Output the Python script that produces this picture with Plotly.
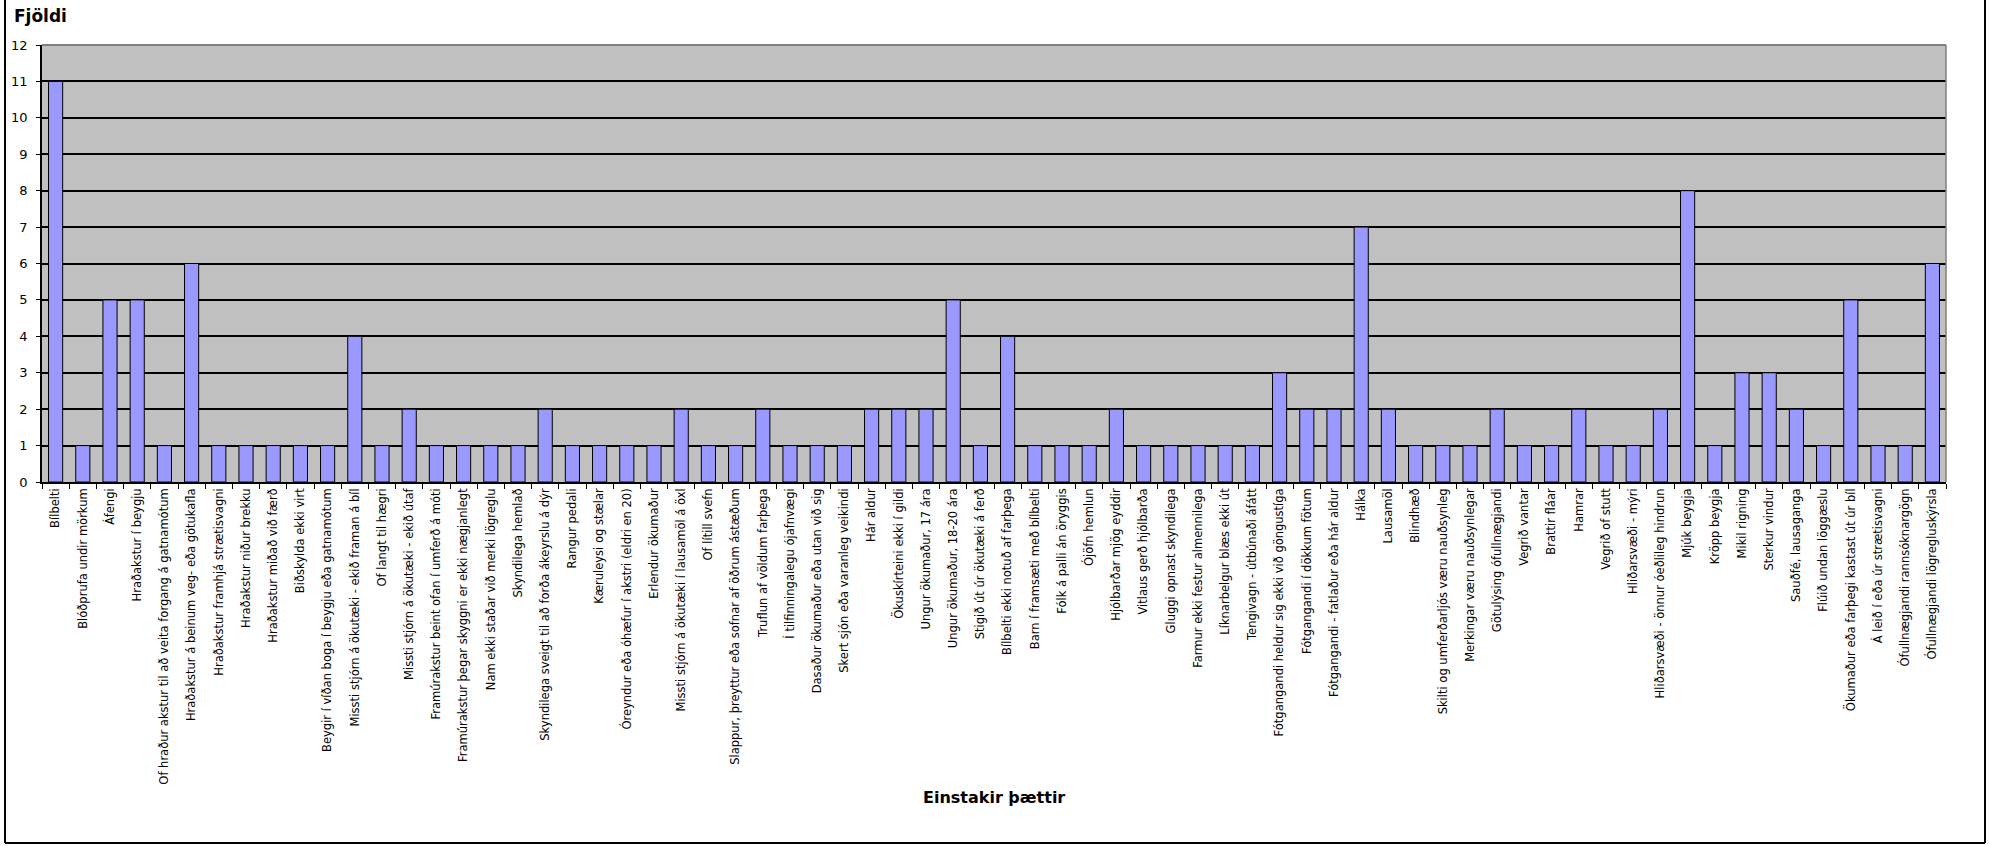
import plotly.graph_objects as go

# Contributing factors in accidents and how often each was recorded
factors = [
    "Bílbelti",
    "Blóðprufa undir mörkum",
    "Áfengi",
    "Hraðakstur í beygju",
    "Of hraður akstur til að veita forgang á gatnamótum",
    "Hraðakstur á beinum veg- eða götukafla",
    "Hraðakstur framhjá strætisvagni",
    "Hraðakstur niður brekku",
    "Hraðakstur miðað við færð",
    "Biðskylda ekki virt",
    "Beygir í víðan boga í beygju eða gatnamótum",
    "Missti stjórn á ökutæki - ekið framan á bíl",
    "Of langt til hægri",
    "Missti stjórn á ökutæki - ekið útaf",
    "Framúrakstur beint ofan í umferð á móti",
    "Framúrakstur þegar skyggni er ekki nægjanlegt",
    "Nam ekki staðar við merki lögreglu",
    "Skyndilega hemlað",
    "Skyndilega sveigt til að forða ákeyrslu á dýr",
    "Rangur pedali",
    "Kæruleysi og stælar",
    "Óreyndur eða óhæfur í akstri (eldri en 20)",
    "Erlendur ökumaður",
    "Missti stjórn á ökutæki í lausamöl á öxl",
    "Of lítill svefn",
    "Slappur, þreyttur eða sofnar af öðrum ástæðum",
    "Truflun af völdum farþega",
    "Í tilfinningalegu ójafnvægi",
    "Dasaður ökumaður eða utan við sig",
    "Skert sjón eða varanleg veikindi",
    "Hár aldur",
    "Ökuskírteini ekki í gildi",
    "Ungur ökumaður, 17 ára",
    "Ungur ökumaður, 18-20 ára",
    "Stigið út úr ökutæki á ferð",
    "Bílbelti ekki notuð af farþega",
    "Barn í framsæti með bílbelti",
    "Fólk á palli án öryggis",
    "Ójöfn hemlun",
    "Hjólbarðar mjög eyddir",
    "Vitlaus gerð hjólbarða",
    "Gluggi opnast skyndilega",
    "Farmur ekki festur almennilega",
    "Líknarbelgur blæs ekki út",
    "Tengivagn - útbúnaði áfátt",
    "Fótgangandi heldur sig ekki við göngustíga",
    "Fótgangandi í dökkum fötum",
    "Fótgangandi - fatlaður eða hár aldur",
    "Hálka",
    "Lausamöl",
    "Blindhæð",
    "Skilti og umferðarljós væru nauðsynleg",
    "Merkingar væru nauðsynlegar",
    "Götulýsing ófullnægjandi",
    "Vegrið vantar",
    "Brattir fláar",
    "Hamrar",
    "Vegrið of stutt",
    "Hliðarsvæði - mýri",
    "Hliðarsvæði - önnur óeðlileg hindrun",
    "Mjúk beygja",
    "Kröpp beygja",
    "Mikil rigning",
    "Sterkur vindur",
    "Sauðfé, lausaganga",
    "Flúið undan löggæslu",
    "Ökumaður eða farþegi kastast út úr bíl",
    "Á leið í eða úr strætisvagni",
    "Ófullnægjandi rannsóknargögn",
    "Ófullnægjandi lögregluskýrsla",
]

counts = [
    11, 1, 5, 5, 1, 6, 1, 1, 1, 1,
    1, 4, 1, 2, 1, 1, 1, 1, 2, 1,
    1, 1, 1, 2, 1, 1, 2, 1, 1, 1,
    2, 2, 2, 5, 1, 4, 1, 1, 1, 2,
    1, 1, 1, 1, 1, 3, 2, 2, 7, 2,
    1, 1, 1, 2, 1, 1, 2, 1, 1, 2,
    8, 1, 3, 3, 2, 1, 5, 1, 1, 6,
]

y_ticks = list(range(0, 13))

W, H = 1989, 846
L, R, T, B = 42, 1946, 45, 482  # plot area in pixels


def px(x):
    return (x - L) / (R - L)


def py(y):
    return (B - y) / (B - T)


fig = go.Figure(
    go.Bar(
        x=factors,
        y=counts,
        marker=dict(color="#9999FF", line=dict(color="black", width=1)),
    )
)

fig.update_layout(
    width=W,
    height=H,
    margin=dict(l=L, r=W - R, t=T, b=H - B, autoexpand=False),
    paper_bgcolor="white",
    plot_bgcolor="#C0C0C0",
    bargap=0.48,
    showlegend=False,
    font=dict(family="DejaVu Sans", color="black"),
    xaxis=dict(
        type="category",
        tickmode="linear",
        tick0=0,
        dtick=1,
        tickangle=-90,
        tickson="boundaries",
        ticks="outside",
        ticklen=5,
        tickwidth=1,
        tickcolor="black",
        tickfont=dict(family="DejaVu Sans", size=11.5),
        showline=True,
        linecolor="black",
        linewidth=1.5,
        showgrid=False,
        automargin=False,
        range=[-0.5, len(factors) - 0.5],
    ),
    yaxis=dict(
        range=[0, 12],
        tickmode="array",
        tickvals=y_ticks,
        ticktext=[str(v) for v in y_ticks],
        ticks="outside",
        ticklen=4,
        tickwidth=1,
        tickcolor="black",
        ticklabelstandoff=6,
        tickfont=dict(family="DejaVu Sans", size=13),
        showline=True,
        linecolor="black",
        linewidth=1.5,
        showgrid=True,
        gridcolor="black",
        gridwidth=1.5,
        zeroline=False,
        automargin=False,
    ),
    annotations=[
        dict(
            text="<b>Fjöldi</b>",
            xref="paper", yref="paper",
            x=px(12), y=py(16),
            xanchor="left", yanchor="middle",
            showarrow=False,
            font=dict(family="DejaVu Sans", size=17),
        ),
        dict(
            text="<b>Einstakir þættir</b>",
            xref="paper", yref="paper",
            x=0.5, y=py(797),
            xanchor="center", yanchor="middle",
            showarrow=False,
            font=dict(family="DejaVu Sans", size=16),
        ),
    ],
    shapes=[
        # grey border on the top and right of the plot area
        dict(type="line", xref="paper", yref="paper", x0=0, x1=1, y0=1, y1=1,
             line=dict(color="#808080", width=2), layer="above"),
        dict(type="line", xref="paper", yref="paper", x0=1, x1=1, y0=0, y1=1,
             line=dict(color="#808080", width=1.5), layer="above"),
        # outer frame of the chart
        dict(type="line", xref="paper", yref="paper",
             x0=px(5), x1=px(5), y0=py(-5), y1=py(843),
             line=dict(color="black", width=2)),
        dict(type="line", xref="paper", yref="paper",
             x0=px(1985), x1=px(1985), y0=py(-5), y1=py(843),
             line=dict(color="black", width=2)),
        dict(type="line", xref="paper", yref="paper",
             x0=px(5), x1=px(1985), y0=py(843), y1=py(843),
             line=dict(color="black", width=2)),
    ],
)

fig.write_html("out.html")
